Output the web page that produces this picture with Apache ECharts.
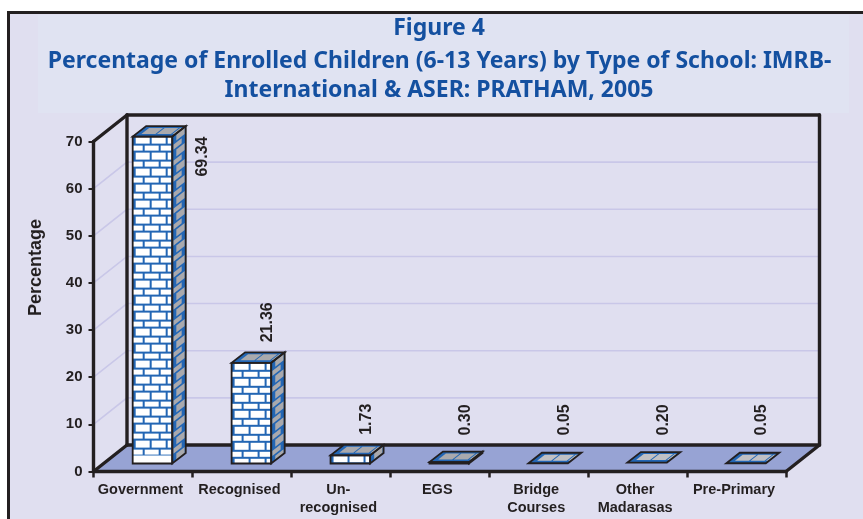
<!DOCTYPE html>
<html>
<head>
<meta charset="utf-8">
<style>html,body{margin:0;padding:0;background:#fff}#chart{width:863px;height:519px}</style>
<script src="https://cdn.jsdelivr.net/npm/echarts@6/dist/echarts.min.js"></script>
</head>
<body>
<div id="chart"></div>
<script>
// School types and enrolment shares (%)
const categories = ['Government', 'Recognised', 'Un-\nrecognised', 'EGS', 'Bridge\nCourses', 'Other\nMadarasas', 'Pre-Primary'];
const shares = [69.34, 21.36, 1.73, 0.30, 0.05, 0.20, 0.05];
const shareLabels = ['69.34', '21.36', '1.73', '0.30', '0.05', '0.20', '0.05'];
const yTicks = [10, 20, 30, 40, 50, 60, 70];

const INK = '#231f20';
const MORTAR = '#2366b4';
const DEPTH = [33.5, -26.5];      // perspective shift of the back wall
const BOX = [13.5, -10.5];        // perspective shift across one bar
const BOX_INSET = [9.5, -8];      // front of each bar, relative to the front plane

// Fills a parallelogram with courses of bricks; courses are laid from the v=0 edge.
function brickFace(o, U, V, uLen, vLen, courses, brickFill) {
  const P = (u, v) => [o[0] + U[0] * u + V[0] * v, o[1] + U[1] * u + V[1] * v];
  const quad = (u0, u1, v0, v1) => [P(u0, v0), P(u1, v0), P(u1, v1), P(u0, v1)];
  const out = [{ type: 'polygon', shape: { points: quad(0, uLen, 0, vLen) }, style: { fill: MORTAR } }];
  let v = 0, i = 0;
  while (v < vLen) {
    const c = courses[i % courses.length];
    const v1 = Math.min(v + c.h, vLen);
    for (let u = c.start; u < uLen; u += c.step) {
      const a = Math.max(u, 0), b = Math.min(u + c.len, uLen);
      if (b > a && v1 > v) {
        out.push({ type: 'polygon', shape: { points: quad(a, b, v, v1) }, style: { fill: brickFill } });
      }
    }
    v += c.h + c.gap;
    i++;
  }
  return out;
}

function outline(points) {
  return { type: 'polygon', shape: { points }, style: { fill: 'none', stroke: INK, lineWidth: 1.8, lineJoin: 'miter' } };
}

const FRONT_COURSES = [
  { h: 7, gap: 2, start: 3, step: 16, len: 14 },
  { h: 5, gap: 2, start: -4, step: 16, len: 14 }
];
const SIDE_COURSES = [
  { h: 7, gap: 2, start: 0.3, step: 20, len: 0.62 },
  { h: 5, gap: 2, start: 0.08, step: 20, len: 0.62 }
];
const TOP_COURSES = [
  { h: 2.5, gap: 0, start: 0, step: 100, len: 0 },
  { h: 6, gap: 9, start: 5.5, step: 15.5, len: 14 }
];

// One brick column: front, side and top faces, followed by its rotated value label.
function renderBar(params, api) {
  const idx = api.value(0);
  const top = api.coord([idx, api.value(1)]);
  const base = api.coord([idx, 0]);
  const w = api.size([1, 0])[0] * 0.4;
  const x0 = top[0] - w / 2 + BOX_INSET[0];
  const yB = base[1] + BOX_INSET[1];
  const yT = top[1] + BOX_INSET[1];
  const h = yB - yT;
  const [dx, dy] = BOX;
  const kids = [];

  if (h >= 1) {
    brickFace([x0, yT], [1, 0], [0, 1], w, h, FRONT_COURSES, '#ffffff').forEach(k => kids.push(k));
    if (h > 200) {
      kids.push({ type: 'rect', shape: { x: x0, y: yB - 8, width: w, height: 8 }, style: { fill: '#ffffff' } });
    }
    brickFace([x0 + w, yT], [dx, dy], [0, 1], 1, h, SIDE_COURSES, '#a9a9ad').forEach(k => kids.push(k));
  }
  brickFace([x0, yT], [1, 0], [dx / -dy, -1], w, -dy, TOP_COURSES, h >= 1 ? '#a9a9ad' : '#c0c0c4').forEach(k => kids.push(k));

  kids.push(outline([[x0, yT], [x0 + w, yT], [x0 + w + dx, yT + dy], [x0 + dx, yT + dy]]));
  if (h >= 1) {
    kids.push(outline([[x0, yT], [x0 + w, yT], [x0 + w, yB], [x0, yB]]));
    kids.push(outline([[x0 + w, yT], [x0 + w + dx, yT + dy], [x0 + w + dx, yB + dy], [x0 + w, yB]]));
  }

  // Labels sit above the column, capped just over the floor's back edge.
  // A column reaching the roof of the plot gets its label alongside instead.
  const backTop = yT + dy;
  let lx = x0 + w / 2 + 16;
  let lBottom = Math.min(params.coordSys.y + params.coordSys.height - 36, backTop - 10);
  if (lBottom - 44 < params.coordSys.y) {
    lx = x0 + w + 30;
    lBottom = yT + 40;
  }
  kids.push({
    type: 'text',
    x: lx, y: lBottom,
    rotation: Math.PI / 2,
    style: {
      text: shareLabels[idx], fill: INK, align: 'left', verticalAlign: 'middle',
      font: 'bold 16px "Liberation Sans", Arial, sans-serif'
    }
  });
  return { type: 'group', children: kids };
}

// Floor plane plus the left and back walls of the plot box.
function renderRoom(params, api) {
  const c = params.coordSys;
  const L = c.x, R = c.x + c.width, T = c.y, B = c.y + c.height;
  const [dx, dy] = DEPTH;
  const line = (a, b) => ({
    type: 'polyline', shape: { points: [a, b] },
    style: { fill: 'none', stroke: INK, lineWidth: 3.4, lineCap: 'round' }
  });
  return {
    type: 'group',
    children: [
      { type: 'polygon', shape: { points: [[L, B], [R, B], [R + dx, B + dy], [L + dx, B + dy]] }, style: { fill: '#97a3d4' } },
      line([L + dx, T + dy], [R + dx, T + dy]),
      line([R + dx, T + dy], [R + dx, B + dy]),
      line([L + dx, T + dy], [L + dx, B + dy]),
      line([L, T], [L + dx, T + dy]),
      line([L, T], [L, B]),
      line([L, B], [L + dx, B + dy]),
      line([L + dx, B + dy], [R + dx, B + dy]),
      line([R, B], [R + dx, B + dy]),
      line([L, B], [R, B])
    ]
  };
}

// Grid lines run along the left wall and then across the back wall.
function renderWallLine(params, api) {
  const c = params.coordSys;
  const y = api.coord([0, api.value(1)])[1];
  const [dx, dy] = DEPTH;
  return {
    type: 'polyline',
    shape: { points: [[c.x, y], [c.x + dx, y + dy], [c.x + c.width + dx, y + dy]] },
    style: { fill: 'none', stroke: '#c9c7e8', lineWidth: 1.6 }
  };
}

const TITLE_STYLE = { fill: '#1450a0', align: 'center', verticalAlign: 'middle', font: 'bold 23px "Noto Sans", sans-serif' };

const chart = echarts.init(document.getElementById('chart'), null, { renderer: 'canvas' });
chart.setOption({
  animation: false,
  backgroundColor: '#ffffff',
  graphic: [
    { type: 'rect', z: -10, shape: { x: 8.5, y: 12.5, width: 870, height: 520 }, style: { fill: '#e0dff0', stroke: INK, lineWidth: 3 } },
    { type: 'rect', z: -9, shape: { x: 38, y: 15, width: 811, height: 98 }, style: { fill: '#e0e3f2' } },
    { type: 'text', z: 5, x: 439, y: 28, style: Object.assign({ text: 'Figure 4' }, TITLE_STYLE) },
    { type: 'text', z: 5, x: 439.5, y: 61.5, style: Object.assign({ text: 'Percentage of Enrolled Children (6-13 Years) by Type of School: IMRB-' }, TITLE_STYLE) },
    { type: 'text', z: 5, x: 439, y: 90.5, style: Object.assign({ text: 'International & ASER: PRATHAM, 2005' }, TITLE_STYLE) }
  ],
  grid: { left: 93.5, right: 77, top: 141.5, bottom: 47.5, containLabel: false },
  xAxis: {
    type: 'category',
    data: categories,
    boundaryGap: true,
    axisLine: { show: false },
    axisTick: { show: true, alignWithLabel: false, length: 6, lineStyle: { color: INK, width: 2.5 } },
    axisLabel: {
      interval: 0, margin: 9, color: INK, lineHeight: 18, padding: [0, 5, 0, 0],
      verticalAlign: 'top',
      fontFamily: '"Liberation Sans", Arial, sans-serif', fontWeight: 'bold', fontSize: 14.5
    }
  },
  yAxis: {
    type: 'value',
    min: 0, max: 70, interval: 10,
    name: 'Percentage',
    nameLocation: 'middle',
    nameGap: 48,
    nameRotate: 90,
    nameTextStyle: {
      color: INK, padding: [0, 0, 0, 78],
      fontFamily: '"Liberation Sans", Arial, sans-serif', fontWeight: 'bold', fontSize: 18
    },
    axisLine: { show: false },
    axisTick: { show: true, length: 5, lineStyle: { color: INK, width: 2 } },
    splitLine: { show: false },
    axisLabel: {
      margin: 11, color: INK,
      fontFamily: '"Liberation Sans", Arial, sans-serif', fontWeight: 'bold', fontSize: 15
    }
  },
  series: [
    { type: 'custom', z: 1, silent: true, renderItem: renderWallLine, data: yTicks.map(t => [0, t]), encode: { x: 0, y: 1 } },
    { type: 'custom', z: 2, silent: true, renderItem: renderRoom, data: [[0, 0]], encode: { x: 0, y: 1 } },
    { type: 'custom', z: 3, silent: true, renderItem: renderBar, data: shares.map((v, i) => [i, v]), encode: { x: 0, y: 1 } }
  ]
});
</script>
</body>
</html>
